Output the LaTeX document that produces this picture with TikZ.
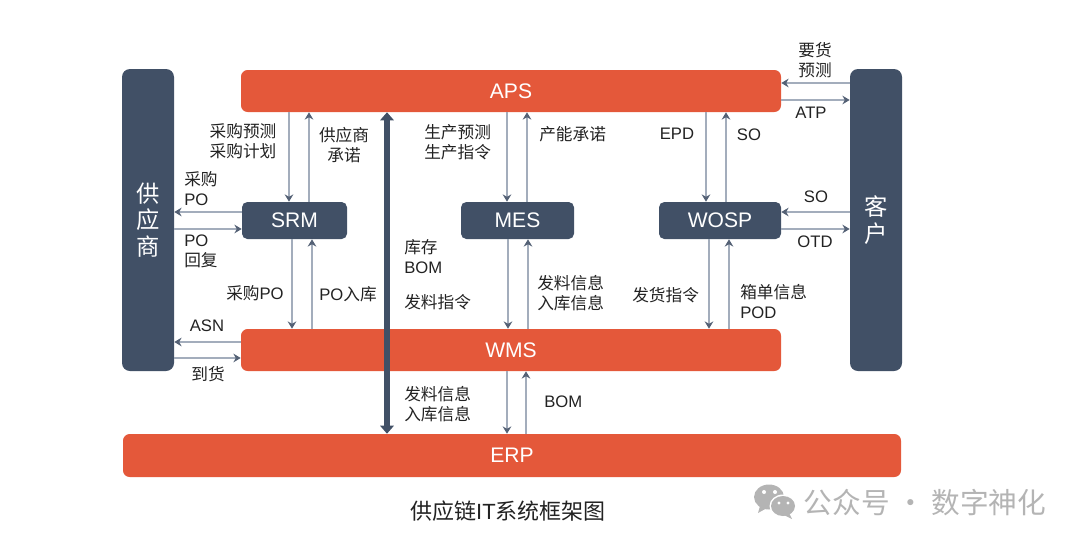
\documentclass[tikz,border=0pt]{standalone}
\usepackage{xcolor}
\usepackage{fontspec}
\usetikzlibrary{arrows.meta}
\setmainfont{Liberation Sans}
\newfontfamily\cjk{Noto Sans CJK SC}
\definecolor{scOrange}{HTML}{E4583A}
\definecolor{scNavy}{HTML}{415066}
\definecolor{scLine}{HTML}{A3ADBC}
\definecolor{scText}{HTML}{222222}
\definecolor{scMark}{HTML}{B4B4B4}
\newcommand{\zh}[1]{{\cjk #1}}
\newcommand{\px}{0.75pt}

\begin{document}
\begin{tikzpicture}[
  x=0.75pt, y=-0.75pt,
  font=\fontsize{12.5}{15}\selectfont,
  bar/.style={rectangle, rounded corners=5pt, fill=scOrange, text=white, inner sep=0pt,
              font=\fontsize{15.8}{18}\selectfont, minimum height=42*\px},
  sys/.style={rectangle, rounded corners=4pt, fill=scNavy, text=white, inner sep=0pt,
              font=\fontsize{15.8}{18}\selectfont, minimum height=37*\px},
  party/.style={rectangle, rounded corners=6pt, fill=scNavy, text=white, inner sep=0pt, align=center,
                font=\fontsize{17.5}{20}\selectfont, minimum width=52*\px, minimum height=302*\px},
  lbl/.style={text=scText, inner sep=0pt, align=center},
  lleft/.style={text=scText, inner sep=0pt, align=left, anchor=west},
  flow/.style={-{Stealth[length=5.5pt, width=6.5pt, color=scNavy!90!white]}, line width=1pt, draw=scLine},
  trunk/.style={{Triangle[length=6pt, width=10pt]}-{Triangle[length=6pt, width=10pt]}, line width=5.2pt, draw=scNavy},
]
\useasboundingbox (0,0) rectangle (1080,547);

% Orange bars and dark boxes
\node[bar, minimum width=540*\px] (aps) at (511,91) {APS};
\node[bar, minimum width=540*\px] (wms) at (511,350) {WMS};
\node[bar, minimum width=778*\px, minimum height=43*\px] (erp) at (512,455.5) {ERP};
\node[sys, minimum width=105*\px] (srm)  at (294.5,220.5) {SRM};
\node[sys, minimum width=113*\px] (mes)  at (517.5,220.5) {MES};
\node[sys, minimum width=122*\px] (wosp) at (720,220.5) {WOSP};
\node[party] (supplier) at (148,220) {\zh{供}\\\zh{应}\\\zh{商}};
\node[party] (customer) at (876,220) {\zh{客}\\\zh{户}};

% Vertical flows
\draw[flow] (aps.south -| 289,0) -- (srm.north -| 289,0);
\draw[flow] (srm.north -| 309,0) -- (aps.south -| 309,0);
\draw[flow] (srm.south -| 292,0) -- (wms.north -| 292,0);
\draw[flow] (wms.north -| 312,0) -- (srm.south -| 312,0);
\draw[flow] (aps.south -| 507,0) -- (mes.north -| 507,0);
\draw[flow] (mes.north -| 527,0) -- (aps.south -| 527,0);
\draw[flow] (mes.south -| 508,0) -- (wms.north -| 508,0);
\draw[flow] (wms.north -| 528,0) -- (mes.south -| 528,0);
\draw[flow] (aps.south -| 706,0) -- (wosp.north -| 706,0);
\draw[flow] (wosp.north -| 726,0) -- (aps.south -| 726,0);
\draw[flow] (wosp.south -| 709,0) -- (wms.north -| 709,0);
\draw[flow] (wms.north -| 729,0) -- (wosp.south -| 729,0);
\draw[flow] (wms.south -| 507,0) -- (erp.north -| 507,0);
\draw[flow] (erp.north -| 526,0) -- (wms.south -| 526,0);

% Horizontal flows
\draw[flow] (srm.west |- 0,212) -- (supplier.east |- 0,212);
\draw[flow] (supplier.east |- 0,229) -- (srm.west |- 0,229);
\draw[flow] (wms.west |- 0,342) -- (supplier.east |- 0,342);
\draw[flow] (supplier.east |- 0,358) -- (wms.west |- 0,358);
\draw[flow] (customer.west |- 0,83) -- (aps.east |- 0,83);
\draw[flow] (aps.east |- 0,100) -- (customer.west |- 0,100);
\draw[flow] (customer.west |- 0,212) -- (wosp.east |- 0,212);
\draw[flow] (wosp.east |- 0,229) -- (customer.west |- 0,229);

% Thick link ERP <-> APS
\draw[trunk] (aps.south -| 387,0) -- (erp.north -| 387,0);

% Labels
\node[lbl] (lplan) at (243,141) {\zh{采购预测}\\\zh{采购计划}};
\node[lbl] (lcommit) at (344,145) {\zh{供应商}\\\zh{承诺}};
\node[lleft] (lpo) at (184,188.5) {\zh{采购}\\PO};
\node[lleft] (lreply) at (184,251.5) {PO\\\zh{回复}};
\node[lbl] (lbuy) at (255,293) {\zh{采购}PO};
\node[lbl] (lin) at (348,294) {PO\zh{入库}};
\node[lbl] (lasn) at (207,326) {ASN};
\node[lbl] (larr) at (208,374) {\zh{到货}};
\node[lleft] (lstock) at (404,256.5) {\zh{库存}\\BOM};
\node[lleft] (lissue) at (404,302) {\zh{发料指令}};
\node[lleft] (lerp) at (404,404.5) {\zh{发料信息}\\\zh{入库信息}};
\node[lleft] (lprod) at (424,142) {\zh{生产预测}\\\zh{生产指令}};
\node[lleft] (lcap) at (539,134) {\zh{产能承诺}};
\node[lleft] (lmes) at (537,293) {\zh{发料信息}\\\zh{入库信息}};
\node[lbl] (lepd) at (677,134) {EPD};
\node[lbl] (lso) at (749,135) {SO};
\node[lleft] (lship) at (632,295) {\zh{发货指令}};
\node[lleft] (lpack) at (740,301.5) {\zh{箱单信息}\\POD};
\node[lbl] (lfcst) at (815,60) {\zh{要货}\\\zh{预测}};
\node[lbl] (latp) at (811,113) {ATP};
\node[lbl] (lsoc) at (816,197) {SO};
\node[lbl] (lotd) at (815,242) {OTD};
\node[lleft] (lbom) at (544,402) {BOM};

% Caption and mark
\node[lbl, font=\fontsize{16.5}{19}\selectfont] (title) at (508,511) {\zh{供应链}IT\zh{系统框架图}};
\node[lbl, text=scMark, font=\fontsize{21.5}{24}\selectfont] (mark) at (925,503) {\zh{公众号 · 数字神化}};
\fill[scMark] (769,497) ellipse (15 and 12.5);
\fill[scMark] (760,506) -- (758,513) -- (767,508) -- cycle;
\fill[white] (783,506) ellipse (13.5 and 11.5);
\fill[scMark] (783,506) ellipse (12 and 10);
\fill[scMark] (789,513) -- (792,519) -- (782,514) -- cycle;
\fill[white] (764,492) circle (2) (775,492) circle (2) (779,503) circle (1.6) (788,503) circle (1.6);
\end{tikzpicture}
\end{document}
